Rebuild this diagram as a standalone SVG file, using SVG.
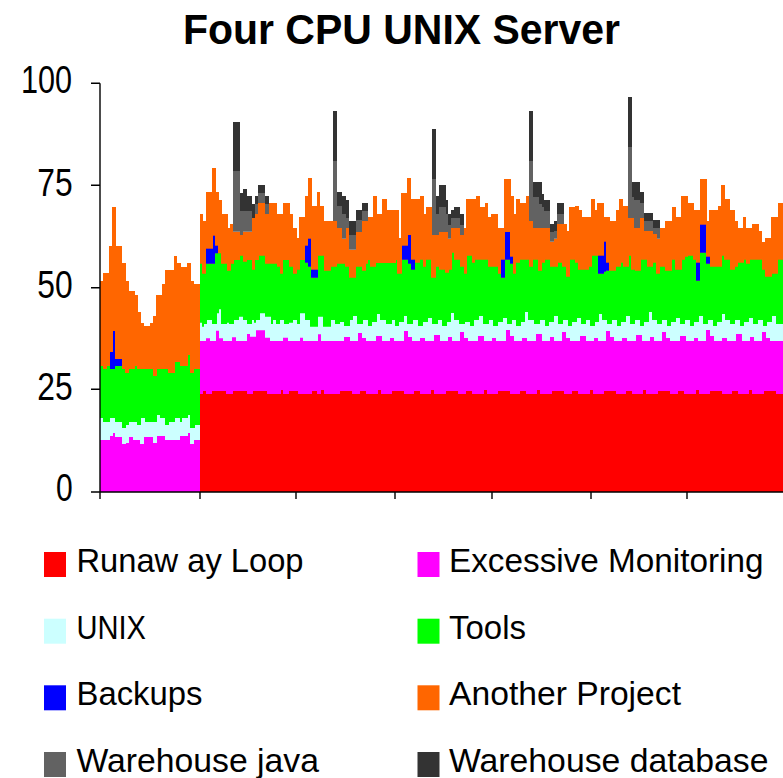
<svg xmlns="http://www.w3.org/2000/svg" width="783" height="778" viewBox="0 0 783 778">
  <style>
    text { font-family: "Liberation Sans", Arial, sans-serif; fill: #000; }
    .title { font-size: 42px; font-weight: bold; }
    .ylab { font-size: 38px; }
    .leg { font-size: 33px; }
    .axis { stroke: #000; stroke-width: 1.4; fill: none; }
    .red { fill: #FF0000; }
    .mag { fill: #FF00FF; }
    .unix { fill: #CCFFFF; }
    .tools { fill: #00FF00; }
    .backup { fill: #0000FF; }
    .proj { fill: #FF6600; }
    .wjava { fill: #626262; }
    .wdb { fill: #333333; }
  </style>

  <rect width="783" height="778" fill="#fff"/>

  <text class="title" x="183" y="44" textLength="437" lengthAdjust="spacingAndGlyphs">Four CPU UNIX Server</text>

  <!-- stacked series, painted top layer first so lower layers overlay -->
  <g id="series-another-project">
    <path class="proj" d="M100,492 V281 H103 V273 H109 V246 H112 V207 H116 V246 H122 V263 H126 V281 H129 V291 H135 V295 H138 V312 H141 V323 H144 V326 H150 V323 H153 V316 H156 V295 H162 V284 H165 V270 H174 V256 H177 V263 H181 V267 H187 V263 H191 V281 H194 V284 H200
      V214 H203 V221 H206 V192 H212 V168 H216 V192 H219 V200 H222 V214 H228 V228 H230 V224 H233 V231.7 H240 V235 H243 V231.7 H252 V218 H255 V214 H258 V203 H265 V214 H269 V203 H277 V214 H283 V203 H290 V214 H293 V228 H297 V238 H299 V217 H305 V196 H308 V178 H312 V206 H317 V192 H320 V206 H324 V221 H337 V228 H342 V238.7 H346 V228 H349 V249.7 H356 V232 H362 V221 H368 V217 H373 V196 H377 V214 H382 V199 H387 V210 H399 V238 H401 V193 H407 V178 H411 V199 H420 V196 H424 V214 H426 V207 H432 V235 H439 V232 H448 V238.7 H451 V228 H460 V235 H464 V228 H466 V199 H476 V196 H480 V207 H485 V203 H488 V217 H491 V214 H498 V228 H504 V179 H511 V196 H514 V214 H516 V199 H520 V203 H526 V196 H529 V221 H533 V228 H550 V241.7 H554 V238.7 H557 V224 H567 V231 H569 V207 H575 V206 H579 V210 H582 V217 H591 V199 H595 V210 H597 V203 H604 V217 H610 V221 H616 V210 H619 V199 H623 V206 H628 V218 H634 V228 H640 V218 H644 V231 H653 V234 H657 V238.7 H660 V228 H665 V221 H672 V207 H676 V217 H681 V196 H688 V203 H694 V210 H700 V179 H707 V221 H709 V210 H718 V206 H721 V185 H725 V199 H730 V210 H735 V221 H738 V228 H743 V217 H746 V228 H752 V224 H759 V231 H762 V242 H765 V238 H771 V217 H778 V203 H783 V492 Z"/>
  </g>

  <g id="series-tools">
    <path class="tools" d="M100,492 V366 H103 V369 H107 V366 H110 V369 H115 V366 H122 V369 H125 V373 H129 V369 H135 V366 H137 V369 H153 V376 H157 V369 H168 V373 H175 V362 H180 V366 H188 V355 H190 V373 H194 V369 H200
      V263.7 H202 V273.7 H206 V263.7 H215 V253.3 H221 V263.7 H227 V270.7 H231 V263.7 H234 V260 H240 V255.7 H243 V261.7 H247 V260 H252 V269.7 H255 V260 H259 V255.7 H265 V263.7 H277 V266.7 H280 V273.7 H283 V260 H289 V266.7 H293 V273.7 H297 V269.7 H300 V260 H305 V262.7 H308 V266.7 H311 V277.7 H318 V255.7 H324 V270.7 H331 V266.7 H337 V263.7 H345 V266.7 H349 V277.7 H356 V266.7 H362 V270.7 H366 V263.7 H368 V260 H370 V266.7 H376 V263 H396 V260 H397 V273.7 H402 V259.7 H408 V263.7 H411 V269.7 H415 V262.7 H420 V259.7 H423 V266.7 H426 V259.7 H431 V277.7 H436 V266.7 H439 V269.7 H445 V272.7 H449 V269.7 H452 V252.7 H454 V259.7 H460 V266.7 H464 V273.7 H467 V255.7 H472 V262.7 H475 V259.7 H488 V266.7 H498 V273.7 H501 V277.7 H505 V259.7 H510 V263.7 H513 V273.7 H516 V262.7 H520 V259.7 H529 V266.7 H533 V259.7 H538 V270.7 H542 V262.7 H545 V259.7 H550 V266.7 H558 V262.7 H562 V266.7 H566 V276.7 H570 V259.7 H575 V262.7 H578 V269.7 H589 V266.7 H592 V255.7 H598 V273.7 H604 V271.7 H606 V270.7 H616 V266.7 H621 V262.7 H623 V266.7 H629 V255.7 H631 V269.7 H635 V270.7 H641 V259.7 H647 V266.7 H653 V262.7 H656 V273.7 H660 V266.7 H665 V270.7 H672 V259.7 H675 V269.7 H682 V259.7 H685 V256.7 H688 V255.7 H693 V259.7 H696 V280.7 H700 V252.7 H706 V263.7 H710 V266.7 H722 V255.7 H724 V259.7 H730 V269.7 H735 V266.7 H738 V262.7 H744 V259.7 H746 V263.7 H750 V259.7 H762 V269.7 H765 V276.7 H772 V273.7 H778 V259.7 H783 V492 Z"/>
  </g>

  <g id="series-backups" class="backup">
    <rect x="110" y="352" width="3" height="17"/>
    <rect x="113" y="331" width="2" height="38"/>
    <rect x="115" y="359" width="7" height="7"/>
    <rect x="206" y="248.7" width="7" height="15"/>
    <rect x="213" y="235.7" width="2" height="28"/>
    <rect x="215" y="245.7" width="3" height="7.6"/>
    <rect x="305" y="245.7" width="3" height="17"/>
    <rect x="308" y="238.7" width="3" height="28"/>
    <rect x="311" y="269.7" width="7" height="8"/>
    <rect x="402" y="245.7" width="6" height="14"/>
    <rect x="408" y="235" width="3" height="28.7"/>
    <rect x="411" y="259.7" width="4" height="10"/>
    <rect x="501" y="259.7" width="4" height="18"/>
    <rect x="505" y="232" width="5" height="27.7"/>
    <rect x="510" y="256.7" width="3" height="7"/>
    <rect x="598" y="255.7" width="6" height="18"/>
    <rect x="604" y="241.7" width="2" height="30"/>
    <rect x="606" y="262.7" width="3" height="8"/>
    <rect x="696" y="262.7" width="4" height="18"/>
    <rect x="700" y="224.7" width="6" height="28"/>
    <rect x="706" y="256.7" width="4" height="7"/>
  </g>

  <g id="series-unix">
    <path class="unix" d="M100,492 V418 H103 V422 H110 V418 H115 V422 H122 V428 H126 V425 H129 V422 H137 V425 H141 V418 H145 V422 H157 V415 H160 V418 H165 V425 H169 V422 H175 V418 H180 V422 H182 V418 H188 V415 H190 V428 H195 V425 H200
      V322.7 H202 V326.7 H204 V324 H207 V320 H212 V324 H217 V313.3 H219 V309.3 H221 V324 H227 V322.7 H229 V324 H234 V320 H239 V316.7 H243 V320 H247 V324 H252 V320 H254 V322.7 H256 V320 H260 V313.3 H265 V316.7 H271 V324 H273 V320 H276 V324 H280 V320 H284 V324 H289 V322.7 H293 V320 H297 V324 H300 V313.3 H305 V320 H310 V326.7 H318 V316.7 H323 V326.7 H331 V320 H335 V324 H340
      V322 H344 V326 H350 V320 H353 V316 H357 V324 H363 V320 H368 V326 H372 V322 H377 V314 H380 V320 H386 V324 H392 V320 H395 V326 H399 V322 H404 V316 H407 V324 H413 V320 H418 V326 H423 V322 H428 V318 H432 V324 H438 V320 H442 V326 H447 V322 H451 V313 H454 V320 H459 V324 H465 V322 H470 V326 H474 V320 H479 V316 H483 V324 H489 V320 H493 V326 H498 V322 H503 V318 H507 V324 H512 V320 H516 V326 H521 V322 H525 V312 H528 V320 H534 V324 H540 V320 H545 V326 H549 V322 H554 V316 H558 V324 H563 V320 H568 V326 H572 V322 H577 V318 H581 V324 H586 V320 H590 V326 H595 V322 H599 V314 H602 V320 H607 V324 H612 V320 H617 V326 H621 V322 H626 V316 H630 V324 H635 V320 H640 V326 H644 V322 H649 V312 H652 V320 H657 V324 H662 V320 H667 V326 H671 V322 H676 V318 H680 V324 H685 V320 H690 V326 H694 V322 H699 V316 H703 V324 H708 V320 H713 V326 H717 V322 H722 V314 H725 V320 H730 V324 H735 V320 H740 V326 H744 V322 H749 V318 H753 V324 H758 V320 H763 V326 H767 V322 H772 V316 H776 V324 H783 V492 Z"/>
  </g>

  <g id="series-excessive-monitoring">
    <path class="mag" d="M100,492 V440 H110 V436 H113 V433 H115 V437 H122 V444 H126 V443 H129 V437 H133 V440 H140 V444 H144 V437 H153 V443 H157 V436 H165 V440 H180 V436 H188 V433 H190 V444 H194 V440 H200
      V341 H206 V338.3 H210 V341 H216 V330.7 H219 V338.3 H223 V341 H232 V337.3 H236 V341 H247 V334 H250 V336.7 H256 V330.3 H265 V337.7 H270 V341 H283 V337.7 H288 V341 H300 V337.7 H303 V341 H318 V334.3 H321 V341 H344 V337 H350 V341 H358 V333 H362 V338 H366 V341 H376 V336 H382 V341 H390 V338 H394 V341 H404 V331 H408 V337 H412 V341 H420 V338 H425 V341 H434 V335 H440 V341 H448 V337 H452 V341 H460 V332 H464 V338 H468 V341 H478 V336 H484 V341 H492 V338 H496 V341 H506 V330 H510 V336 H514 V341 H522 V338 H527 V341 H536 V334 H542 V341 H550 V337 H554 V341 H562 V332 H566 V338 H570 V341 H580 V336 H586 V341 H594 V338 H598 V341 H606 V331 H610 V337 H614 V341 H622 V338 H627 V341 H636 V335 H642 V341 H650 V337 H654 V341 H662 V332 H666 V338 H670 V341 H680 V336 H686 V341 H694 V338 H698 V341 H706 V330 H710 V336 H714 V341 H722 V338 H727 V341 H736 V334 H742 V341 H750 V337 H754 V341 H762 V332 H766 V338 H770 V341 H783 V492 Z"/>
  </g>

  <g id="series-runaway-loop">
    <path class="red" d="M200,492 V394 H203 V391 H206 V394 H212 V391 H226 V394 H233 V391 H247 V394 H253 V391 H267 V394 H281 V390 H283 V394 H289 V391 H298 V394 H312 V391 H317 V394 H321 V390 H324 V394 H340 V391 H352 V394 H360 V391 H366 V394 H378 V390 H381 V394 H392 V391 H404 V394 H414 V391 H420 V394 H431 V390 H434 V394 H446 V391 H458 V394 H466 V391 H472 V394 H484 V390 H487 V394 H498 V391 H510 V394 H520 V391 H526 V394 H537 V390 H540 V394 H552 V391 H564 V394 H572 V391 H578 V394 H590 V390 H593 V394 H604 V391 H616 V394 H626 V391 H632 V394 H643 V390 H646 V394 H658 V391 H670 V394 H678 V391 H684 V394 H696 V390 H699 V394 H710 V391 H722 V394 H732 V391 H738 V394 H749 V390 H752 V394 H764 V391 H776 V394 H783 V492 Z"/>
  </g>

  <g id="series-warehouse-java" class="wjava">
    <rect x="233" y="171.7" width="7" height="60"/>
    <rect x="240" y="211" width="3" height="24"/>
    <rect x="243" y="211" width="9" height="20.7"/>
    <rect x="255" y="204" width="3" height="10"/>
    <rect x="258" y="193" width="7" height="10"/>
    <rect x="265" y="204" width="4" height="10"/>
    <rect x="333" y="161" width="4" height="60"/>
    <rect x="337" y="206.7" width="5" height="21.3"/>
    <rect x="342" y="214" width="4" height="24.7"/>
    <rect x="346" y="218" width="3" height="10"/>
    <rect x="349" y="235.7" width="7" height="14"/>
    <rect x="356" y="220" width="6" height="12"/>
    <rect x="362" y="211" width="6" height="10"/>
    <rect x="432" y="179" width="4" height="56"/>
    <rect x="436" y="214" width="3" height="21"/>
    <rect x="439" y="207" width="7" height="25"/>
    <rect x="446" y="214" width="2" height="18"/>
    <rect x="448" y="225" width="3" height="13.7"/>
    <rect x="451" y="218" width="9" height="10"/>
    <rect x="460" y="225" width="4" height="10"/>
    <rect x="529" y="161" width="4" height="60"/>
    <rect x="533" y="197" width="6" height="31"/>
    <rect x="539" y="204" width="3" height="24"/>
    <rect x="542" y="207" width="2" height="21"/>
    <rect x="544" y="211" width="6" height="17"/>
    <rect x="550" y="232" width="4" height="9.7"/>
    <rect x="554" y="231" width="3" height="7.7"/>
    <rect x="557" y="214" width="7" height="10"/>
    <rect x="628" y="147" width="4" height="71"/>
    <rect x="632" y="197" width="2" height="21"/>
    <rect x="634" y="200" width="6" height="28"/>
    <rect x="640" y="203" width="4" height="15"/>
    <rect x="644" y="221" width="9" height="10"/>
    <rect x="653" y="228" width="4" height="6"/>
    <rect x="657" y="228" width="3" height="10.7"/>
  </g>

  <g id="series-warehouse-database" class="wdb">
    <rect x="233" y="122" width="7" height="49.7"/>
    <rect x="240" y="193" width="3" height="18"/>
    <rect x="243" y="189" width="4" height="22"/>
    <rect x="247" y="196" width="5" height="15"/>
    <rect x="252" y="204" width="3" height="14"/>
    <rect x="255" y="196" width="3" height="8"/>
    <rect x="258" y="185" width="7" height="8"/>
    <rect x="265" y="196" width="4" height="8"/>
    <rect x="333" y="111" width="4" height="50"/>
    <rect x="337" y="192" width="5" height="14.7"/>
    <rect x="342" y="196" width="4" height="18"/>
    <rect x="346" y="200" width="3" height="18"/>
    <rect x="349" y="221" width="7" height="14.7"/>
    <rect x="356" y="210" width="6" height="10"/>
    <rect x="362" y="203" width="6" height="8"/>
    <rect x="432" y="129" width="4" height="50"/>
    <rect x="436" y="196" width="3" height="18"/>
    <rect x="439" y="185" width="7" height="22"/>
    <rect x="446" y="200" width="2" height="14"/>
    <rect x="448" y="214" width="3" height="11"/>
    <rect x="451" y="210" width="3" height="8"/>
    <rect x="454" y="207" width="6" height="11"/>
    <rect x="460" y="214" width="4" height="11"/>
    <rect x="529" y="111" width="4" height="50"/>
    <rect x="533" y="182" width="6" height="15"/>
    <rect x="539" y="182" width="3" height="22"/>
    <rect x="542" y="194" width="2" height="13"/>
    <rect x="544" y="200" width="6" height="11"/>
    <rect x="550" y="224" width="4" height="8"/>
    <rect x="554" y="221" width="3" height="10"/>
    <rect x="557" y="203" width="7" height="11"/>
    <rect x="628" y="97" width="4" height="50"/>
    <rect x="632" y="182" width="2" height="15"/>
    <rect x="634" y="182" width="6" height="18"/>
    <rect x="640" y="192" width="4" height="11"/>
    <rect x="644" y="213" width="9" height="8"/>
    <rect x="653" y="220" width="7" height="8"/>
  </g>

  <!-- axes and tick marks -->
  <g id="axes">
    <path class="axis" d="M100,83.3 V492 M91,492 H783 M91,83.3 H100 M91,185.3 H100 M91,287.7 H100 M91,389.3 H100 M100,492 V499 M200,492 V499 M296,492 V499 M395,492 V499 M492,492 V499 M591,492 V499 M687,492 V499"/>
    <text class="ylab" x="21" y="92.7" textLength="51" lengthAdjust="spacingAndGlyphs">100</text>
    <text class="ylab" x="37.3" y="196" textLength="35.4" lengthAdjust="spacingAndGlyphs">75</text>
    <text class="ylab" x="37.3" y="297.7" textLength="35.4" lengthAdjust="spacingAndGlyphs">50</text>
    <text class="ylab" x="37.3" y="400" textLength="35.4" lengthAdjust="spacingAndGlyphs">25</text>
    <text class="ylab" x="56" y="501" textLength="16.7" lengthAdjust="spacingAndGlyphs">0</text>
  </g>

  <!-- legend -->
  <g id="legend">
    <g id="legend-runaway-loop">
      <rect class="red" x="44" y="552" width="22" height="25"/>
      <text class="leg" x="76.5" y="572" textLength="227" lengthAdjust="spacingAndGlyphs">Runaw ay Loop</text>
    </g>
    <g id="legend-excessive-monitoring">
      <rect class="mag" x="417.5" y="552" width="22" height="25"/>
      <text class="leg" x="449" y="572" textLength="314.5" lengthAdjust="spacingAndGlyphs">Excessive Monitoring</text>
    </g>
    <g id="legend-unix">
      <rect class="unix" x="44" y="618.7" width="22" height="25"/>
      <text class="leg" x="76.5" y="638.7" textLength="69.5" lengthAdjust="spacingAndGlyphs">UNIX</text>
    </g>
    <g id="legend-tools">
      <rect class="tools" x="417.5" y="618.7" width="22" height="25"/>
      <text class="leg" x="449" y="638.7" textLength="77" lengthAdjust="spacingAndGlyphs">Tools</text>
    </g>
    <g id="legend-backups">
      <rect class="backup" x="44" y="685.3" width="22" height="25"/>
      <text class="leg" x="76.5" y="705.3" textLength="126" lengthAdjust="spacingAndGlyphs">Backups</text>
    </g>
    <g id="legend-another-project">
      <rect class="proj" x="417.5" y="685.3" width="22" height="25"/>
      <text class="leg" x="449" y="705.3" textLength="232" lengthAdjust="spacingAndGlyphs">Another Project</text>
    </g>
    <g id="legend-warehouse-java">
      <rect class="wjava" x="44" y="752" width="22" height="25"/>
      <text class="leg" x="76.5" y="772" textLength="242.5" lengthAdjust="spacingAndGlyphs">Warehouse java</text>
    </g>
    <g id="legend-warehouse-database">
      <rect class="wdb" x="417.5" y="752" width="22" height="25"/>
      <text class="leg" x="449" y="772" textLength="319.5" lengthAdjust="spacingAndGlyphs">Warehouse database</text>
    </g>
  </g>
</svg>
